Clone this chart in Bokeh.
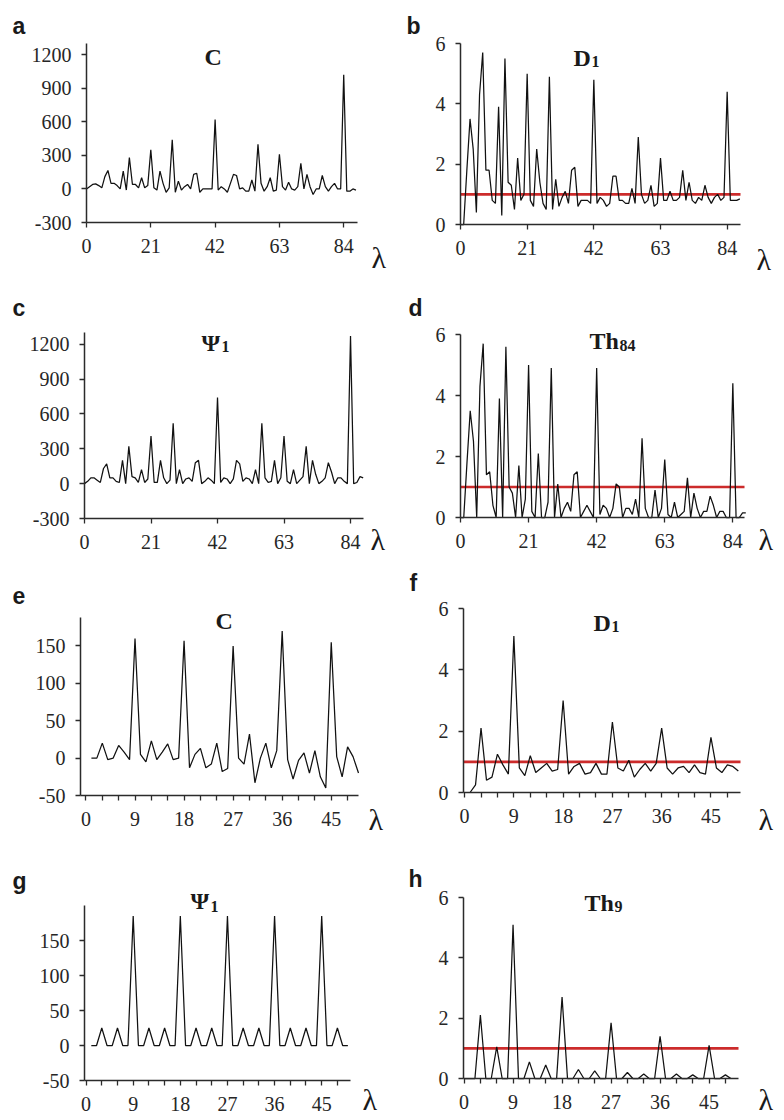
from bokeh.plotting import figure
from bokeh.models import Range1d, FixedTicker, Label
from bokeh.layouts import gridplot
from bokeh.embed import file_html
from bokeh.resources import INLINE

# ---------------- data ----------------
# panels a-d: lambda 0..88
C_a = [0, 20, 40, 45, 30, 10, 110, 165, 50, 50,
       30, 0, 160, -10, 280, 40, 40, 10, 100, 10,
       30, 350, 10, -10, 160, 50, -30, 10, 440, -30,
       70, -10, 20, 40, 0, 130, 140, -30, 0, 0,
       0, 0, 620, -10, 20, 0, -30, 50, 130, 120,
       0, 10, -20, -20, 80, -20, 400, 50, -20, 20,
       100, -20, -10, 310, 20, -10, 60, 0, -10, 20,
       230, 0, 130, 20, -50, 0, 0, 120, 20, -20,
       20, 50, 0, 0, 1020, -20, -20, 0, -10]

D1_b = [0, 0, 1.8, 3.5, 2.5, 0.4, 4.3, 5.7, 1.8, 1.8,
        0.8, 0.7, 3.9, 0.3, 5.5, 1.4, 1.3, 0.5, 2.2, 0.8,
        1.0, 5.0, 0.8, 0.6, 2.5, 1.4, 0.7, 0.5, 4.9, 0.5,
        1.5, 0.6, 0.9, 1.1, 0.7, 1.8, 1.9, 0.6, 0.8, 0.8,
        0.8, 0.7, 4.8, 0.7, 0.9, 0.8, 0.6, 0.7, 1.6, 1.6,
        0.8, 0.8, 0.7, 0.7, 1.2, 0.7, 2.9, 1.0, 0.7, 0.8,
        1.3, 0.6, 0.7, 2.2, 0.8, 0.8, 1.1, 0.8, 0.8, 0.9,
        1.8, 0.8, 1.4, 0.8, 0.7, 0.9, 0.8, 1.3, 0.9, 0.7,
        0.9, 1.0, 0.8, 0.9, 4.4, 0.8, 0.8, 0.8, 0.85]

Psi_c = [0, 20, 50, 50, 30, 10, 130, 170, 50, 50,
         20, 10, 200, 0, 320, 60, 50, 10, 120, 10,
         40, 410, 10, 10, 200, 50, 0, 30, 520, 0,
         120, 0, 40, 50, 20, 180, 200, 0, 20, 50,
         30, 0, 740, 10, 50, 40, 0, 40, 200, 170,
         20, 50, 40, 0, 120, 0, 520, 50, 10, 20,
         200, 0, 50, 410, 20, 0, 120, 0, 30, 60,
         320, 0, 200, 80, 0, 20, 50, 180, 100, 0,
         50, 50, 20, 0, 1270, 0, 10, 60, 50]

Th84_d = [0, 0, 1.8, 3.5, 2.5, 0, 4.3, 5.7, 1.4, 1.5,
          0.4, 0, 3.9, 0, 5.6, 1.0, 0.8, 0, 1.7, 0,
          0.6, 5.0, 0.2, 0, 2.1, 0, 0, 0.5, 4.9, 0,
          1.1, 0, 0.3, 0.5, 0.2, 1.4, 1.5, 0, 0.2, 0.4,
          0.2, 0, 4.9, 0.1, 0.4, 0.3, 0, 0.3, 1.1, 1.0,
          0, 0.3, 0.3, 0.1, 0.6, 0, 2.6, 0.3, 0, 0,
          0.9, 0, 0.3, 1.9, 0.1, 0, 0.5, 0, 0.1, 0.2,
          1.3, 0, 0.8, 0.3, 0, 0.2, 0.2, 0.7, 0.4, 0,
          0.2, 0.2, 0, 0, 4.4, 0, 0, 0.15, 0.15]

# panels e-h
C_e = [0, 0, 20, -2, 0, 17, 8, -2, 160, 5,
       -5, 23, -2, 8, 19, -2, 0, 157, -13, 5,
       13, -13, -8, 20, -18, -14, 150, 0, -8, 32,
       -33, 0, 20, -13, 10, 170, -2, -28, -3, 7,
       -20, 10, -25, -40, 155, 2, -25, 15, 2, -20]          # lambda 1..50

D1_f = [0, 0.25, 2.1, 0.4, 0.5, 1.25, 0.9, 0.6, 5.1, 0.8,
        0.55, 1.2, 0.65, 0.8, 0.95, 0.7, 0.75, 3.0, 0.6, 0.85,
        0.95, 0.6, 0.65, 0.95, 0.6, 0.6, 2.3, 0.8, 0.7, 1.05,
        0.5, 0.75, 0.95, 0.7, 0.95, 2.1, 0.8, 0.6, 0.8, 0.85,
        0.65, 0.9, 0.65, 0.6, 1.8, 0.8, 0.65, 0.9, 0.85, 0.7]  # lambda 1..50

Psi_g = [0, 0, 25, 0, 0, 25, 0, 0, 185, 0,
         0, 25, 0, 0, 25, 0, 0, 185, 0, 0,
         25, 0, 0, 25, 0, 0, 185, 0, 0, 25,
         0, 0, 25, 0, 0, 185, 0, 0, 25, 0,
         0, 25, 0, 0, 185, 0, 0, 25, 0, 0]                   # lambda 1..50

Th9_h = [0, 0, 0, 2.1, 0, 0, 1.05, 0, 0, 5.1,
         0, 0, 0.55, 0, 0, 0.45, 0, 0, 2.7, 0,
         0, 0.3, 0, 0, 0.25, 0, 0, 1.85, 0, 0,
         0.2, 0, 0, 0.15, 0, 0, 1.4, 0, 0, 0.15,
         0, 0, 0.12, 0, 0, 1.1, 0, 0, 0.12, 0]               # lambda 0..49

threshold = 1.0

xticks_84 = [0, 21, 42, 63, 84]
xticks_45 = [0, 9, 18, 27, 36, 45]
xminor_45 = [3, 6, 12, 15, 21, 24, 30, 33, 39, 42, 48]
yticks_big = [-300, 0, 300, 600, 900, 1200]
yticks_ratio = [0, 2, 4, 6]
yticks_small = [-50, 0, 50, 100, 150]

SERIF = "Liberation Serif"
SANS = "Liberation Sans"
W, H = 392, 280
AX = "#2b2b2b"
RED = "#cc2b2b"


def make(spec, xs, ys, xt, yt, xminor=None, red=False):
    L, R, T, B = spec["L"], spec["R"], spec["T"], spec["B"]
    x0, x1 = spec["x"]
    y0, y1 = spec["y"]
    ux = (x1 - x0) / (W - L - R)
    uy = (y1 - y0) / (H - T - B)
    p = figure(width=W, height=H, output_backend="svg", toolbar_location=None,
               x_range=Range1d(x0 - L * ux, x1 + R * ux),
               y_range=Range1d(y0 - B * uy, y1 + T * uy),
               min_border_left=0, min_border_right=0,
               min_border_top=0, min_border_bottom=0)
    p.outline_line_color = None
    p.xgrid.visible = False
    p.ygrid.visible = False
    p.background_fill_color = "white"
    p.border_fill_color = "white"
    xa, ya = p.xaxis[0], p.yaxis[0]
    xa.fixed_location = y0
    xa.bounds = (x0, x1)
    ya.fixed_location = x0
    ya.bounds = (y0, y1)
    for ax in (xa, ya):
        ax.axis_line_color = AX
        ax.axis_line_width = 1.5
        ax.major_tick_line_color = AX
        ax.major_tick_line_width = 1.3
        ax.major_tick_in = 0
        ax.major_tick_out = 5
        ax.minor_tick_line_color = AX
        ax.minor_tick_line_width = 1.3
        ax.minor_tick_in = 0
        ax.minor_tick_out = 5
        ax.major_label_text_font = SERIF
        ax.major_label_text_font_size = "20px"
        ax.major_label_text_color = "#262626"
        ax.major_label_standoff = 10
    xa.major_label_standoff = 11
    xa.ticker = FixedTicker(ticks=xt, minor_ticks=(xminor or []))
    ya.ticker = FixedTicker(ticks=yt, minor_ticks=[])
    xa.major_label_overrides = {t: str(t) for t in xt}
    ya.major_label_overrides = {t: str(t) for t in yt}
    if red:
        p.line([x0, x1], [threshold, threshold], line_color=RED, line_width=2.6)
    p.line(xs, ys, line_color="#111111", line_width=1.25)
    return p


def put(p, text, x, yb, size, font=SERIF, style="bold", color="#1a1a1a"):
    p.add_layout(Label(x=x, y=H - yb, x_units="screen", y_units="screen", text=text,
                       text_font=font, text_font_size=f"{size}px",
                       text_font_style=style, text_color=color,
                       text_baseline="alphabetic", text_align="left"))


specs = {
    "a": dict(L=86, R=35, T=43, B=58, x=(0, 88.5), y=(-300, 1300)),
    "b": dict(L=68, R=44, T=43, B=56, x=(0, 88.2), y=(0, 6)),
    "c": dict(L=84, R=29, T=52, B=42, x=(0, 88.1), y=(-300, 1300)),
    "d": dict(L=68, R=40, T=54, B=43, x=(0, 87.6), y=(0, 6)),
    "e": dict(L=80, R=34, T=57, B=45, x=(-1, 50), y=(-50, 188)),
    "f": dict(L=71, R=44, T=48, B=48, x=(-0.2, 50.4), y=(0, 6)),
    "g": dict(L=84, R=42, T=65, B=40, x=(-0.3, 50.5), y=(-50, 200)),
    "h": dict(L=71, R=46, T=57, B=42, x=(-0.1, 50.4), y=(0, 6)),
}

lam_a = list(range(len(C_a)))
lam_b = list(range(len(D1_b)))
lam_c = list(range(len(Psi_c)))
lam_d = list(range(len(Th84_d)))
lam_e = [i + 1 for i in range(len(C_e))]
lam_f = [i + 1 for i in range(len(D1_f))]
lam_g = [i + 1 for i in range(len(Psi_g))]
lam_h = list(range(len(Th9_h)))

pa = make(specs["a"], lam_a, C_a, xticks_84, yticks_big)
pb = make(specs["b"], lam_b, D1_b, xticks_84, yticks_ratio, red=True)
pc = make(specs["c"], lam_c, Psi_c, xticks_84, yticks_big)
pd = make(specs["d"], lam_d, Th84_d, xticks_84, yticks_ratio, red=True)
pe = make(specs["e"], lam_e, C_e, xticks_45, yticks_small, xminor_45)
pf = make(specs["f"], lam_f, D1_f, xticks_45, yticks_ratio, xminor_45, red=True)
pg = make(specs["g"], lam_g, Psi_g, xticks_45, yticks_small, xminor_45)
ph = make(specs["h"], lam_h, Th9_h, xticks_45, yticks_ratio, xminor_45, red=True)

# panel letters
for p, k, x, yb in [(pa, "a", 12, 25), (pb, "b", 14, 25), (pc, "c", 12, 27), (pd, "d", 16, 27),
                    (pe, "e", 12, 35), (pf, "f", 17, 22), (pg, "g", 12, 40), (ph, "h", 16, 38)]:
    put(p, k, x, yb, 23, font=SANS)

# titles (main symbol + subscript)
TS, SS = 24, 16
put(pa, "C", 204, 56, TS)
put(pb, "D", 181, 57, TS)
put(pb, "1", 199, 61, SS)
put(pc, "Ψ", 201, 62, TS)
put(pc, "1", 221, 66, SS)
put(pd, "Th", 197, 60, TS)
put(pd, "84", 227, 65, SS)
put(pe, "C", 215, 60, TS)
put(pf, "D", 201, 62, TS)
put(pf, "1", 219, 66, SS)
put(pg, "Ψ", 190, 60, TS)
put(pg, "1", 210, 66, SS)
put(ph, "Th", 192, 62, TS)
put(ph, "9", 222, 66, SS)

# lambda axis names (kept fully inside each panel)
for p, x, yb in [(pa, 371, 257), (pb, 364, 259), (pc, 370, 259), (pd, 366, 259),
                 (pe, 368, 259), (pf, 366, 259), (pg, 362, 259), (ph, 366, 259)]:
    put(p, "λ", x, yb, 30, style="normal")

grid = gridplot([[pa, pb], [pc, pd], [pe, pf], [pg, ph]], toolbar_location=None)

open("out.html", "w").write(file_html(grid, INLINE))
